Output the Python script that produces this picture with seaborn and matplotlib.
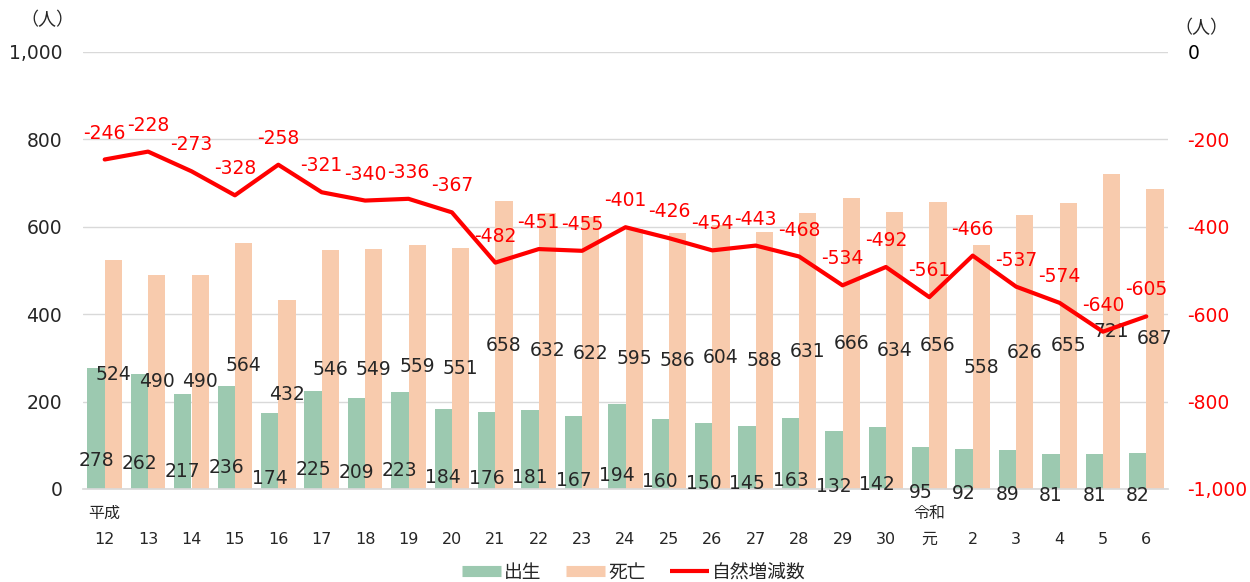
import numpy as np
import pandas as pd
import matplotlib
matplotlib.use("Agg")
import matplotlib.pyplot as plt
import matplotlib.transforms as mtransforms
from matplotlib.lines import Line2D
import seaborn as sns

# データ
years = ["平成12", "平成13", "平成14", "平成15", "平成16", "平成17", "平成18", "平成19",
         "平成20", "平成21", "平成22", "平成23", "平成24", "平成25", "平成26", "平成27",
         "平成28", "平成29", "平成30", "令和元", "令和2", "令和3", "令和4", "令和5", "令和6"]
tick_labels = ["12", "13", "14", "15", "16", "17", "18", "19", "20", "21", "22", "23", "24",
               "25", "26", "27", "28", "29", "30", "元", "2", "3", "4", "5", "6"]
births = [278, 262, 217, 236, 174, 225, 209, 223, 184, 176, 181, 167, 194, 160, 150, 145,
          163, 132, 142, 95, 92, 89, 81, 81, 82]
deaths = [524, 490, 490, 564, 432, 546, 549, 559, 551, 658, 632, 622, 595, 586, 604, 588,
          631, 666, 634, 656, 558, 626, 655, 721, 687]
natural = [-246, -228, -273, -328, -258, -321, -340, -336, -367, -482, -451, -455, -401,
           -426, -454, -443, -468, -534, -492, -561, -466, -537, -574, -640, -605]
era_marks = {"平成12": "平成", "令和元": "令和"}

green = "#9cc9b0"
peach = "#f8cbad"
red = "#ff0000"
grid = "#d9d9d9"

sns.set_theme(style="white")
plt.rcParams["font.family"] = ["DejaVu Sans", "Noto Sans CJK JP"]

df = pd.DataFrame({"year": years * 2,
                   "count": births + deaths,
                   "kind": ["出生"] * len(years) + ["死亡"] * len(years)})

fig = plt.figure(figsize=(12.5, 5.82), dpi=100)
ax = fig.add_axes([0.0664, 0.1598, 0.868, 0.7509])

sns.barplot(data=df, x="year", y="count", hue="kind", order=years,
            palette={"出生": green, "死亡": peach}, width=0.8, gap=0,
            saturation=1, linewidth=0, legend=False, ax=ax)

ax.set_ylim(0, 1000)
ax.set_xlim(-0.5, len(years) - 0.5)
ax.set_yticks(np.arange(0, 1001, 200))
ax.set_yticklabels([f"{v:,}" for v in range(0, 1001, 200)], fontsize=13.5)
ax.tick_params(axis="y", length=0, pad=15)
ax.set_xticks(range(len(years)))
ax.set_xticklabels(tick_labels, fontsize=11.5)
ax.tick_params(axis="x", length=0, pad=31)
ax.set_xticks(np.arange(-0.5, len(years)), minor=True)
ax.tick_params(axis="x", which="minor", length=5, color=grid, width=1)
ax.set_xlabel("")
ax.set_ylabel("")
ax.yaxis.grid(True, color=grid, lw=1)
ax.set_axisbelow(True)
for s in ["top", "left", "right"]:
    ax.spines[s].set_visible(False)
ax.spines["bottom"].set_color(grid)

# 棒のラベル
for i, (b, d) in enumerate(zip(births, deaths)):
    ax.text(i - 0.2, 0.41 * b - 48, str(b), ha="center", va="center", fontsize=13.5)
    ax.text(i + 0.2, d / 2, str(d), ha="center", va="center", fontsize=13.5)

# 元号
trans = mtransforms.blended_transform_factory(ax.transData, ax.transAxes)
for i, y in enumerate(years):
    if y in era_marks:
        ax.text(i, -0.055, era_marks[y], transform=trans, ha="center", va="center",
                fontsize=11.5)

# 自然増減数
ax2 = ax.twinx()
sns.lineplot(x=np.arange(len(years)), y=natural, color=red, lw=3, ax=ax2)
ax2.set_ylim(-1000, 0)
ax2.set_yticks(np.arange(-1000, 1, 200))
ax2.set_yticklabels([f"{v:,}" for v in range(-1000, 1, 200)], fontsize=13.5)
for lab, v in zip(ax2.get_yticklabels(), range(-1000, 1, 200)):
    lab.set_color("black" if v == 0 else red)
ax2.tick_params(axis="y", length=0, pad=14)
for s in ["top", "left", "right", "bottom"]:
    ax2.spines[s].set_visible(False)
for i, v in enumerate(natural):
    ax2.annotate(str(v), (i, v), xytext=(0, 19), textcoords="offset points",
                 ha="center", va="center", color=red, fontsize=13.5)

fig.text(0.038, 0.965, "（人）", ha="center", va="center", fontsize=13)
fig.text(0.961, 0.952, "（人）", ha="center", va="center", fontsize=13)

handles = [Line2D([], [], color=green, lw=8, solid_capstyle="butt"),
           Line2D([], [], color=peach, lw=8, solid_capstyle="butt"),
           Line2D([], [], color=red, lw=3, solid_capstyle="butt")]
fig.legend(handles, ["出生", "死亡", "自然増減数"], loc="center", ncol=3,
           bbox_to_anchor=(0.507, 0.017), frameon=False, fontsize=13.5,
           handlelength=2.1, columnspacing=1.3, handletextpad=0.15)

fig.savefig("out.png", dpi=100)
